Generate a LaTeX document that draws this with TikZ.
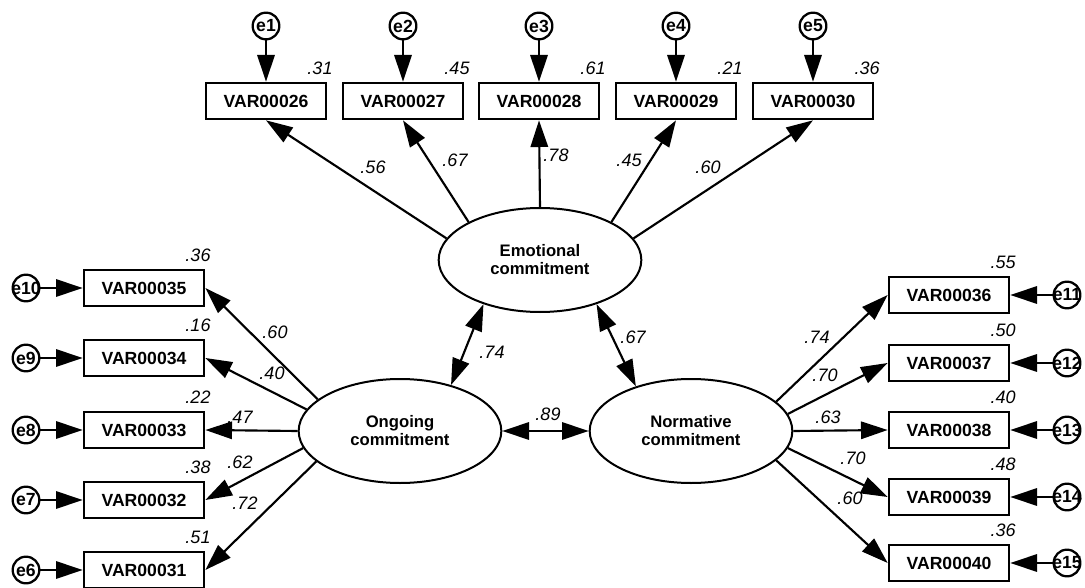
\documentclass[tikz,border=0pt]{standalone}
\usepackage{fontspec}
\setmainfont{Liberation Sans}
\usetikzlibrary{positioning}
\usetikzlibrary{calc}
\usetikzlibrary{shapes.geometric}
\usetikzlibrary{arrows.meta}
\tikzset{
    % Large solid heads, as in the AMOS output
    >={Triangle[length=20pt, width=13pt]},
%
    % Lines
    path line/.style={line width=1.6pt, ->},
    cov line/.style={line width=1.6pt, <->},
%
    % We almost always want centre aligned node text
    every node/.style={align=center},
}

\begin{document}
\begin{tikzpicture}[
    x=0.75pt, y=-0.75pt,
    item/.style={draw, line width=2pt, minimum width=90pt, minimum height=27pt,
        inner sep=0, font=\fontsize{13.2}{15}\selectfont\bfseries},
    err/.style={draw, circle, line width=1.7pt, minimum size=20pt, inner sep=0,
        font=\fontsize{13.2}{15}\selectfont\bfseries},
    factor/.style={draw, ellipse, line width=1.5pt, minimum width=152pt,
        minimum height=78pt, font=\fontsize{12.5}{13.5}\selectfont\bfseries},
    est/.style={font=\fontsize{13.5}{15}\selectfont\itshape, inner sep=0},
    ]

% Page extent in pixels of the reference
\useasboundingbox (0,0) rectangle (1085,588);

% Latent factors
\node [factor] (emotional) at (540,260) {Emotional\\commitment};
\node [factor] (ongoing) at (400,431) {Ongoing\\commitment};
\node [factor] (normative) at (691,431) {Normative\\commitment};

% Emotional commitment, items along the top
\foreach \n/\x/\e/\v/\a/\l/\lx/\ly in {
    26/266/1/.31/167/.56/373/167, 27/403/2/.45/152/.67/455/160,
    28/539/3/.61/90/.78/556/155, 29/676/4/.21/28/.45/629/160,
    30/813/5/.36/13/.60/708/167} {
    \node [item] (var\n) at (\x,101) {VAR000\n};
    \node [err] (e\e) at (\x,26) {e\e};
    \draw [path line] (e\e) -- (var\n);
    \node [est] at ($(var\n)+(54,-33)$) {\v};
    \draw [path line] (emotional.\a) -- (var\n.south);
    \node [est] at (\lx,\ly) {\l}; }

% Ongoing commitment, items on the left
\foreach \n/\y/\e/\v/\a/\l/\lx/\ly in {
    35/288/10/.36/159/.60/275/332, 34/358/9/.16/167/.40/272/373,
    33/430/8/.22/180/.47/240/417, 32/500/7/.38/190/.62/240/462,
    31/570/6/.51/200/.72/245/503} {
    \node [item] (var\n) at (144,\y) {VAR000\n};
    \node [err] (e\e) at (26,\y) {\makebox[0pt]{e\e}};
    \draw [path line] (e\e) -- (var\n);
    \node [est] at ($(var\n)+(54,-33)$) {\v};
    \draw [path line] (ongoing.\a) -- (var\n.east);
    \node [est] at (\lx,\ly) {\l}; }

% Normative commitment, items on the right
\foreach \n/\y/\e/\v/\a/\l/\lx/\ly in {
    36/295/11/.55/19/.74/817/337, 37/363/12/.50/10/.70/825/375,
    38/430/13/.40/0/.63/828/417, 39/497/14/.48/-10/.70/853/458,
    40/563/15/.36/-19/.60/850/498} {
    \node [item] (var\n) at (949,\y) {VAR000\n};
    \node [err] (e\e) at (1067,\y) {\makebox[0pt]{e\e}};
    \draw [path line] (e\e) -- (var\n);
    \node [est] at ($(var\n)+(54,-33)$) {\v};
    \draw [path line] (normative.\a) -- (var\n.west);
    \node [est] at (\lx,\ly) {\l}; }

% Correlations between factors
\draw [cov line] (emotional.218) -- (ongoing.42)
    node [est] at (492,352) {.74};
\draw [cov line] (emotional.322) -- (normative.141)
    node [est] at (633,337) {.67};
\draw [cov line] (ongoing) -- (normative)
    node [est] at (548,414) {.89};

\end{tikzpicture}
\end{document}
